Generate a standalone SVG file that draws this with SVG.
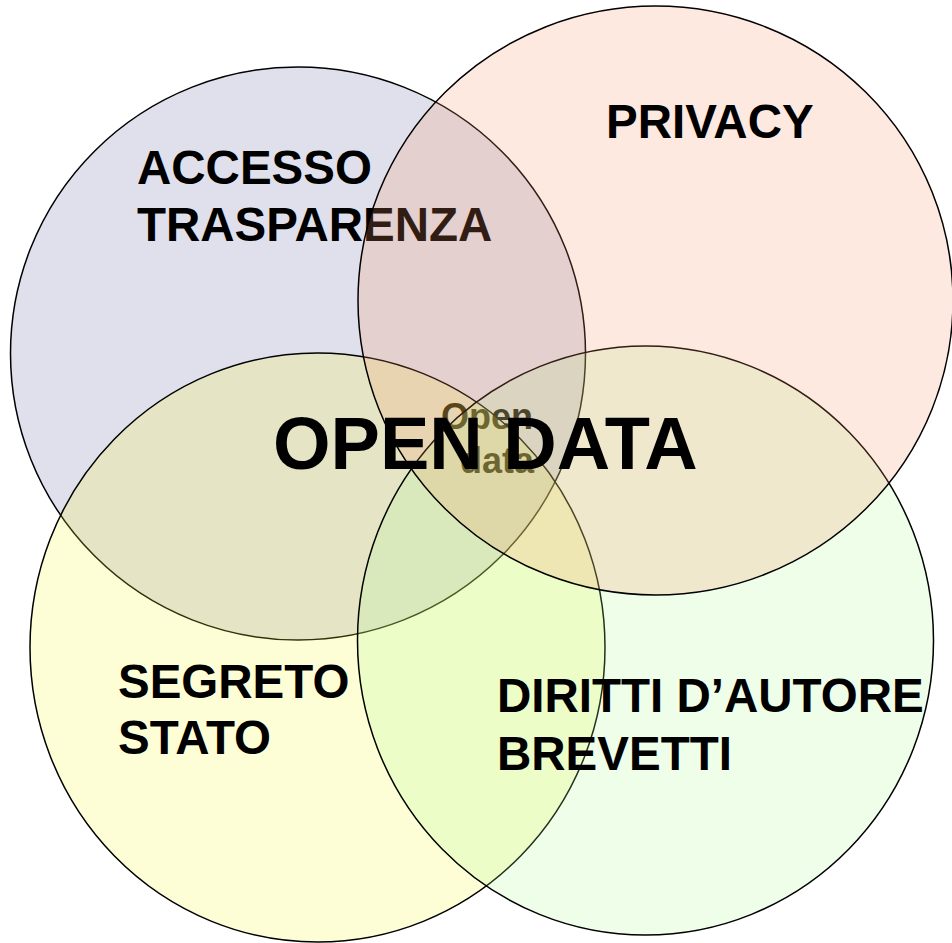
<svg xmlns="http://www.w3.org/2000/svg" width="952" height="943" viewBox="0 0 952 943">
  <style>
    .c { fill-opacity: 0.2; stroke: #000000; stroke-width: 1.5; }
    .lbl { font-family: "Liberation Sans", Arial, sans-serif; font-weight: bold; font-size: 47.5px; fill: #000000; }
    .small { font-family: "Liberation Sans", Arial, sans-serif; font-weight: bold; font-size: 36px; fill: #000000; text-anchor: middle; }
    .big { font-family: "Liberation Sans", Arial, sans-serif; font-weight: bold; font-size: 74px; fill: #000000; }
  </style>
  <rect x="0" y="0" width="952" height="943" fill="#ffffff"/>
  <g id="accesso">
    <ellipse class="c" cx="298" cy="353.5" rx="287.5" ry="286.5" fill="#6464a0"/>
    <text class="lbl" x="137" y="184">ACCESSO</text>
    <text class="lbl" x="137" y="241">TRASPARENZA</text>
  </g>
  <g id="open-data-small">
    <text class="small" x="487" y="429">Open</text>
    <text class="small" x="497" y="473">data</text>
  </g>
  <g id="segreto">
    <ellipse class="c" cx="317.5" cy="647.5" rx="287.5" ry="294.5" fill="#fafa32"/>
    <text class="lbl" x="118" y="698">SEGRETO</text>
    <text class="lbl" x="118" y="754">STATO</text>
  </g>
  <g id="diritti">
    <ellipse class="c" cx="645.5" cy="640.5" rx="288" ry="294.5" fill="#aafa91"/>
    <text class="lbl" x="497" y="712">DIRITTI D’AUTORE</text>
    <text class="lbl" x="497" y="770">BREVETTI</text>
  </g>
  <g id="privacy">
    <ellipse class="c" cx="655.5" cy="300.5" rx="297.5" ry="294.5" fill="#f5915f"/>
    <text class="lbl" x="606" y="138">PRIVACY</text>
  </g>
  <g id="connectors"></g>
  <g id="open-data">
    <text class="big" x="273" y="469">OPEN DATA</text>
  </g>
</svg>
